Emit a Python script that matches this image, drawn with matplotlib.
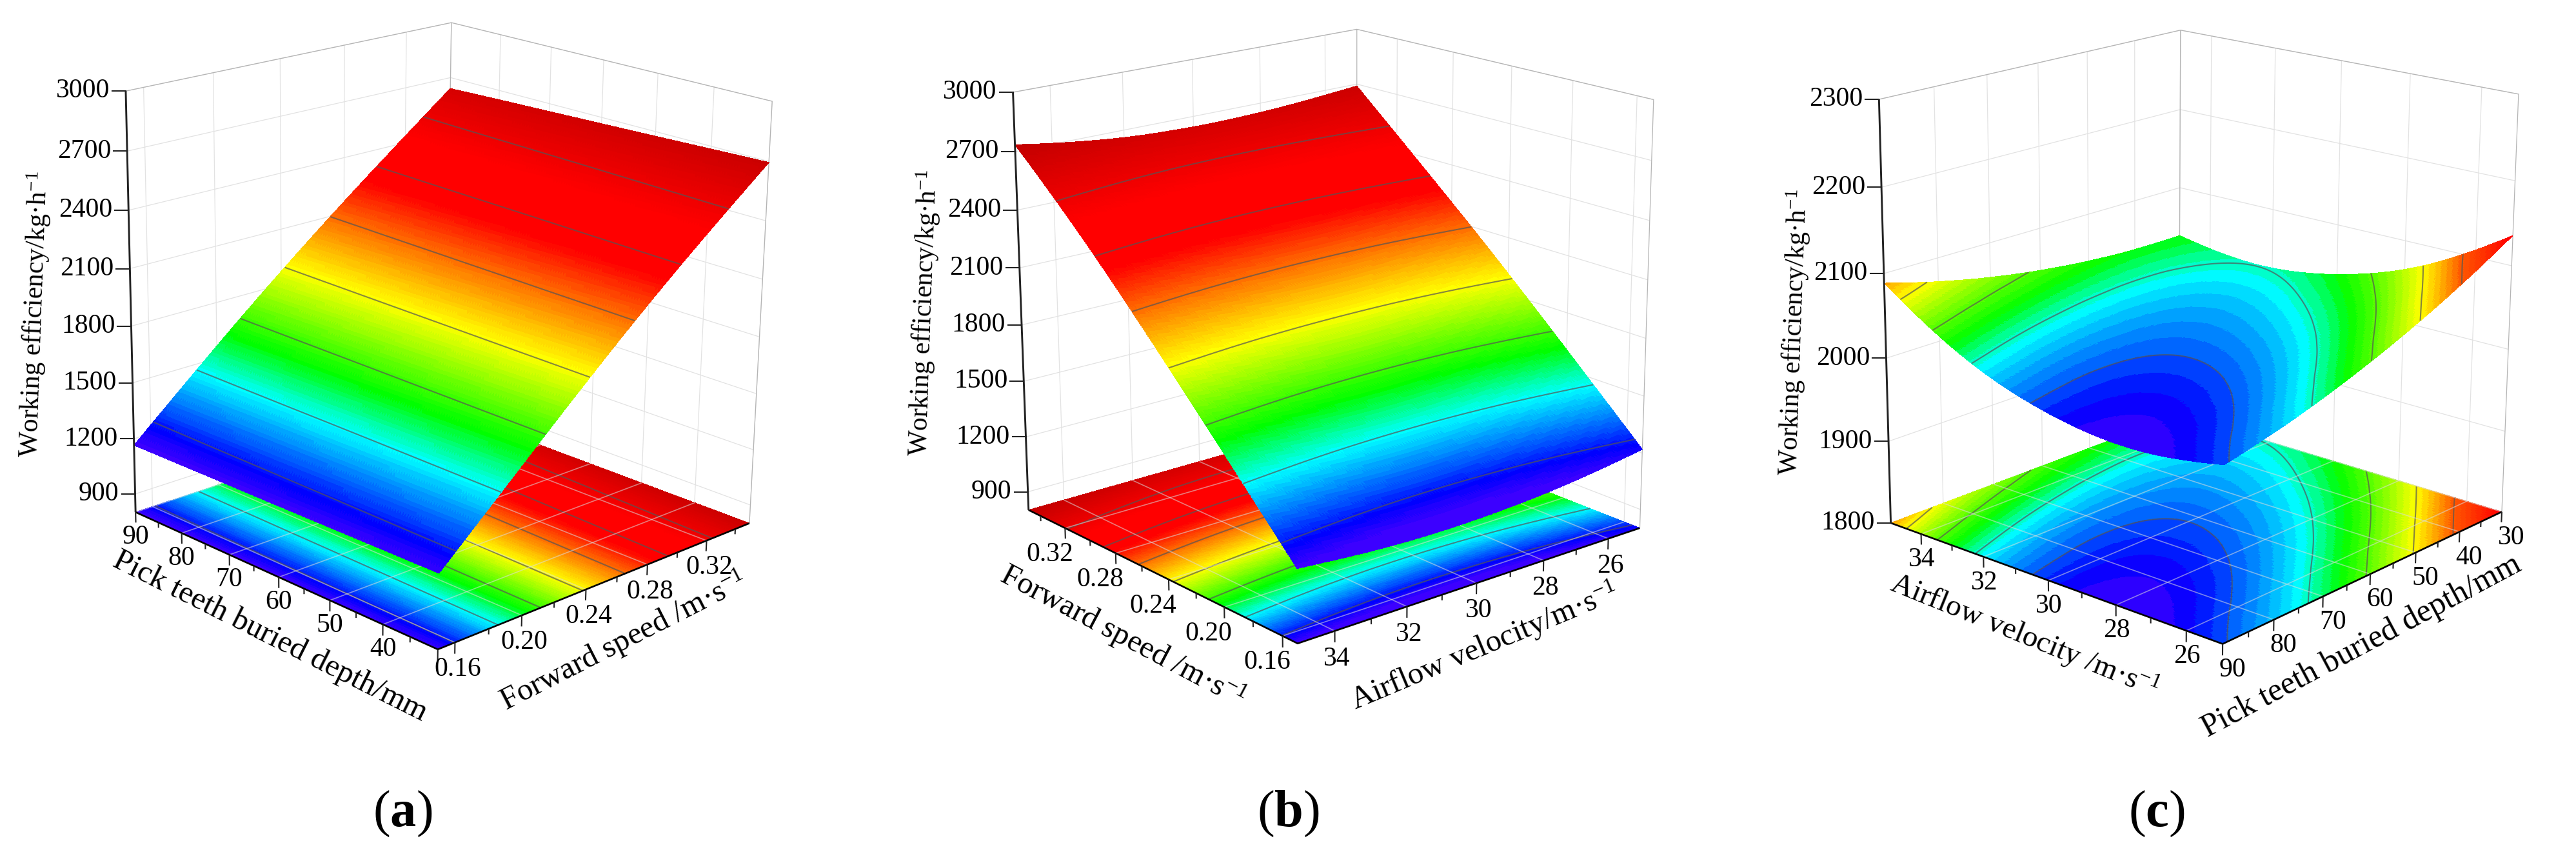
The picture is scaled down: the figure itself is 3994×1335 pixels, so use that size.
import numpy as np
import matplotlib
matplotlib.use("Agg")
import matplotlib.pyplot as plt
import matplotlib.tri as mtri
from matplotlib.colors import LinearSegmentedColormap, BoundaryNorm
from matplotlib.lines import Line2D
from mpl_toolkits.mplot3d import art3d, proj3d

W, H = 3994, 1335
plt.rcParams['font.family'] = ['Liberation Serif', 'DejaVu Serif']
plt.rcParams['mathtext.fontset'] = 'custom'
plt.rcParams['mathtext.rm'] = 'Liberation Serif'
plt.rcParams['mathtext.it'] = 'Liberation Serif:italic'
plt.rcParams['mathtext.bf'] = 'Liberation Serif:bold'

# values
depth_a = [30, 45, 60, 75, 90]
speed_a = [0.15, 0.20, 0.25, 0.30, 0.35]
eff_a = [[1180, 1584, 1981, 2351, 2695],
         [1176, 1579, 1972, 2338, 2681],
         [1172, 1574, 1963, 2325, 2667],
         [1169, 1570, 1954, 2313, 2654],
         [1165, 1565, 1945, 2300, 2640]]

speed_b = [0.15, 0.20, 0.25, 0.30, 0.35]
air_b = [25, 27.5, 30, 32.5, 35]
eff_b = [[1220, 1159, 1130, 1134, 1170],
         [1605, 1553, 1532, 1544, 1587],
         [1982, 1939, 1927, 1946, 1996],
         [2340, 2310, 2305, 2330, 2385],
         [2690, 2655, 2645, 2670, 2735]]

air_c = [25, 27, 29, 31, 33, 35]
depth_c = [30, 40, 50, 60, 70, 80, 90]
eff_c = [[2135.7, 2104.4, 2076.5, 2052.0, 2030.8, 2013.1, 1998.8],
         [2084.9, 2059.9, 2038.2, 2020.0, 2005.1, 1993.6, 1985.6],
         [2049.8, 2031.0, 2015.6, 2003.6, 1995.0, 1989.8, 1988.0],
         [2030.2, 2017.6, 2008.5, 2002.8, 2000.4, 2001.5, 2005.9],
         [2026.2, 2019.9, 2017.0, 2017.6, 2021.5, 2028.8, 2039.5],
         [2037.8, 2037.8, 2041.2, 2048.0, 2058.1, 2071.7, 2088.7]]

z_ticks_ab = [900, 1200, 1500, 1800, 2100, 2400, 2700, 3000]
z_ticks_c = [1800, 1900, 2000, 2100, 2200, 2300]
levels_ab = [1258, 1468, 1678, 1888, 2098, 2308, 2518]
levels_c = [2000, 2025, 2050, 2075, 2100]

depth_major = [90, 80, 70, 60, 50, 40, 30]
depth_minor = [85, 75, 65, 55, 45, 35]
speed_major = [0.16, 0.20, 0.24, 0.28, 0.32]
speed_minor = [0.18, 0.22, 0.26, 0.30, 0.34]
air_major = [34, 32, 30, 28, 26]
air_minor = [33, 31, 29, 27]

stops_ab = [(1165, (60, 0, 255)), (1230, (0, 0, 255)), (1290, (0, 70, 255)), (1460, (0, 255, 255)),
            (1610, (0, 255, 0)), (1890, (255, 255, 0)), (2250, (255, 0, 0)), (2440, (255, 0, 0)),
            (2735, (195, 0, 0))]
stops_c = [(1985, (45, 0, 255)), (1990, (0, 0, 255)), (2000, (0, 100, 255)), (2020, (0, 255, 255)),
           (2037, (0, 255, 0)), (2075, (255, 255, 0)), (2100, (255, 90, 0)), (2135, (255, 0, 0))]

panels = [
    dict(x=depth_a, y=speed_a, z=eff_a, xlim=(90, 30), ylim=(0.15, 0.35), zlim=(800, 3000),
         zt=z_ticks_ab, levels=levels_ab, stops=stops_ab, bands=96,
         xmaj=depth_major, xmin=depth_minor, ymaj=speed_major, ymin=speed_minor,
         xlab=['90', '80', '70', '60', '50', '40', ''], ylab=['0.16', '0.20', '0.24', '0.28', '0.32'],
         xoff=(0, 39), yoff=(4, 42),
         pix=[(210, 791.5), (679, 1009), (1162, 809), (195, 142), (700, 34), (1197, 157.5), (690.5, 638)],
         ztitle=(54, 487), xtitle=("Pick teeth buried depth/mm", 419, 987, -26.6, 35),
         ytitle=("Forward speed /m·s$^{-1}$", 967, 994, 27, 35), tag=("a", 624, 1262)),
    dict(x=speed_b, y=air_b, z=eff_b, xlim=(0.35, 0.15), ylim=(35, 25), zlim=(800, 3000),
         zt=z_ticks_ab, levels=levels_ab, stops=stops_ab, bands=96,
         xmaj=speed_major, xmin=speed_minor, ymaj=air_major, ymin=air_minor,
         xlab=['0.16', '0.20', '0.24', '0.28', '0.32'], ylab=['34', '32', '30', '28', '26'],
         xoff=(-24, 41), yoff=(3, 43),
         pix=[(1597, 791.5), (2010, 998), (2545, 817), (1570, 142), (2105, 45), (2563, 156), (2101, 647)],
         ztitle=(1433, 485), xtitle=("Forward speed /m·s$^{-1}$", 1741, 987, -27.8, 35),
         ytitle=("Airflow velocity/m·s$^{-1}$", 2302, 1002, 22.7, 35), tag=("b", 1997, 1262)),
    dict(x=air_c, y=depth_c, z=eff_c, xlim=(35, 25), ylim=(90, 30), zlim=(1800, 2300),
         zt=z_ticks_c, levels=levels_c, stops=stops_c, bands=40,
         xmaj=air_major, xmin=air_minor, ymaj=depth_major, ymin=depth_minor,
         xlab=['34', '32', '30', '28', '26'], ylab=['90', '80', '70', '60', '50', '40', '30'],
         xoff=(1, 40), yoff=(15, 40),
         pix=[(2932, 815), (3446, 995), (3879, 797.5), (2913, 153), (3381, 48.5), (3905, 145), (3378, 638)],
         ztitle=(2782, 515), xtitle=("Airflow velocity /m·s$^{-1}$", 3139, 987, -22, 34),
         ytitle=("Pick teeth buried depth/mm", 3662, 1002, 28, 36), tag=("c", 3344, 1262)),
]


def box_matrix(p):
    # camera matrix from the box corners seen in the picture
    xL, xF = p['xlim']
    yF, yR = p['ylim']
    z0, z1 = p['zlim']
    corners = [(xL, yF, z0), (xF, yF, z0), (xF, yR, z0), (xL, yF, z1), (xL, yR, z1), (xF, yR, z1), (xL, yR, z0)]
    T = np.diag([1 / (xF - xL), 1 / (yR - yF), 1 / (z1 - z0), 1.0])
    T[:3, 3] = [-xL / (xF - xL), -yF / (yR - yF), -z0 / (z1 - z0)]
    rows = []
    for c, (u, v) in zip(corners, p['pix']):
        q = T @ np.array([*c, 1.0])
        rows.append([*q, 0, 0, 0, 0, *(-u * q)])
        rows.append([0, 0, 0, 0, *q, *(-v * q)])
    cam = np.linalg.svd(np.array(rows))[2][-1].reshape(3, 4)
    cam = cam @ T
    mid = np.array([(xL + xF) / 2, (yF + yR) / 2, (z0 + z1) / 2, 1.0])
    cam = cam / (cam[2] @ mid)
    return np.array([cam[0], cam[1], [0, 0, 0, -1.0], cam[2]])


def tri_polys(tx, ty, tz, triangles, zfixed, cmap, norm, zorder):
    zs = tz[triangles]
    zz = zs if zfixed is None else np.full(zs.shape, float(zfixed))
    verts = np.stack([tx[triangles], ty[triangles], zz], axis=2)
    col = art3d.Poly3DCollection(verts, facecolors=cmap(norm(zs.mean(axis=1))), edgecolors='none',
                                 linewidths=0, antialiased=False)
    col.set_zorder(zorder)
    return col


def ptext(x, y, s, **kw):
    return plt.gcf().text(x / W, 1 - y / H, s, ha=kw.pop('ha', 'center'), va=kw.pop('va', 'center'),
                          rotation_mode='anchor', **kw)


def segs(ax, lines, color, lw, zorder, alpha=None):
    col = art3d.Line3DCollection(lines, colors=color, linewidths=lw, alpha=alpha)
    col.set_zorder(zorder)
    ax.add_collection3d(col, autolim=False)


def draw_panel(fig, p):
    ax = fig.add_axes([0, 0, 1, 1], projection='3d')
    ax.patch.set_visible(False)
    ax.set_axis_off()
    ax.computed_zorder = False
    M = box_matrix(p)
    ax.get_proj = lambda: M
    ax.apply_aspect = lambda position=None: None

    xL, xF = p['xlim']
    yF, yR = p['ylim']
    z0, z1 = p['zlim']
    zr = z1 - z0

    # surface + its shadow on the floor
    xv, yv = np.meshgrid(p['x'], p['y'], indexing='ij')
    nx, ny = xv.shape
    idx = np.arange(nx * ny).reshape(nx, ny)
    a, b, c, d = idx[:-1, :-1].ravel(), idx[1:, :-1].ravel(), idx[1:, 1:].ravel(), idx[:-1, 1:].ravel()
    triangles = np.vstack([np.c_[a, b, c], np.c_[a, c, d]])
    tri = mtri.Triangulation(xv.ravel(), yv.ravel(), triangles)
    fine, zfine = mtri.UniformTriRefiner(tri).refine_field(np.array(p['z'], float).ravel(), subdiv=5)

    vals = [s[0] for s in p['stops']]
    pos = [(v - vals[0]) / (vals[-1] - vals[0]) for v in vals]
    cmap = LinearSegmentedColormap.from_list('rs', [(q, np.array(s[1]) / 255) for q, s in zip(pos, p['stops'])], N=512)
    norm = BoundaryNorm(np.linspace(vals[0], vals[-1], p['bands'] + 1), 512, clip=True)

    ax.add_collection3d(tri_polys(fine.x, fine.y, zfine, fine.triangles, z0, cmap, norm, 1))
    ax.add_collection3d(tri_polys(fine.x, fine.y, zfine, fine.triangles, None, cmap, norm, 4))
    ax.tricontour(fine, zfine, levels=p['levels'], colors='#555555', linewidths=1.5, alpha=0.7, offset=z0, zorder=2)
    ax.tricontour(fine, zfine, levels=p['levels'], colors='#555555', linewidths=1.5, alpha=0.7, zorder=5)

    # walls
    grid = [[(xL, y, z0), (xL, y, z1)] for y in p['ymaj']]
    grid += [[(x, yR, z0), (x, yR, z1)] for x in p['xmaj']]
    grid += [[(xL, yF, z), (xL, yR, z), (xF, yR, z)] for z in p['zt']]
    segs(ax, grid, '#e2e2e2', 0.9, 0)
    segs(ax, [[(xL, yF, z1), (xL, yR, z1), (xF, yR, z1), (xF, yR, z0)], [(xL, yR, z0), (xL, yR, z1)]],
         '#b4b4b4', 0.9, 0.5)

    # floor grid, lies above the shadow
    floor = [[(x, yF, z0), (x, yR, z0)] for x in p['xmaj']]
    floor += [[(xF, y, z0), (xL, y, z0)] for y in p['ymaj']]
    segs(ax, floor, '#dddddd', 1.2, 3, alpha=0.55)

    # axes and ticks
    segs(ax, [[(xL, yF, z0), (xF, yF, z0), (xF, yR, z0)]], 'black', 1.9, 6)
    segs(ax, [[(xL, yF, z0), (xL, yF, z1)]], '#222222', 2.1, 6)
    ticks = [[(x, yF, z0), (x, yF, z0 - 0.026 * zr)] for x in p['xmaj']]
    ticks += [[(x, yF, z0), (x, yF, z0 - 0.013 * zr)] for x in p['xmin']]
    ticks += [[(xF, y, z0), (xF, y, z0 - 0.026 * zr)] for y in p['ymaj']]
    ticks += [[(xF, y, z0), (xF, y, z0 - 0.013 * zr)] for y in p['ymin']]
    segs(ax, ticks, '#222222', 1.5, 6)

    # tick labels, placed from the projected tick position
    for x, s in zip(p['xmaj'], p['xlab']):
        u, v, _ = proj3d.proj_transform(x, yF, z0, M)
        ptext(u + p['xoff'][0], v + p['xoff'][1], s, fontsize=30)
    for y, s in zip(p['ymaj'], p['ylab']):
        u, v, _ = proj3d.proj_transform(xF, y, z0, M)
        ptext(u + p['yoff'][0], v + p['yoff'][1], s, fontsize=30)
    for z in p['zt']:
        u, v, _ = proj3d.proj_transform(xL, yF, z, M)
        fig.add_artist(Line2D([(u - 21) / W, u / W], [1 - v / H, 1 - v / H], color='#222222', lw=1.5))
        ptext(u - 25, v, str(z), ha='right', fontsize=30)

    ptext(p['ztitle'][0], p['ztitle'][1], "Working efficiency/kg·h$^{-1}$", rotation=88, fontsize=30)
    s, u, v, rot, fs = p['xtitle']
    ptext(u, v, s, rotation=rot, fontsize=fs)
    s, u, v, rot, fs = p['ytitle']
    ptext(u, v, s, rotation=rot, fontsize=fs)
    s, u, v = p['tag']
    ptext(u, v, "(" + r"$\mathbf{" + s + "}$" + ")", fontsize=58)

    ax.viewLim.intervalx = (0, W)
    ax.viewLim.intervaly = (H, 0)


fig = plt.figure(figsize=(W / 100, H / 100), dpi=100)
for p in panels:
    draw_panel(fig, p)
fig.savefig('out.png', dpi=100)
